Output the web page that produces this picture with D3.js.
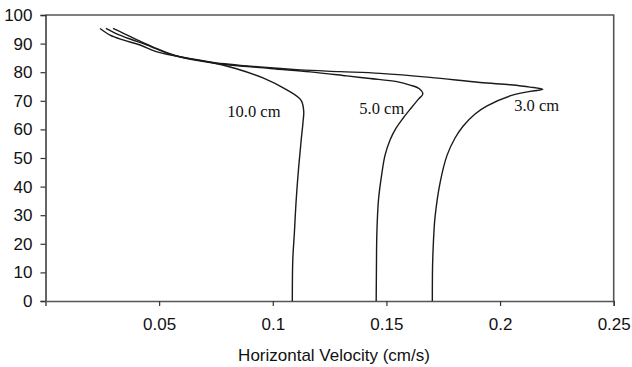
<!DOCTYPE html>
<html>
<head>
<meta charset="utf-8">
<script src="https://cdn.jsdelivr.net/npm/d3@7"></script>
<style>
  html, body { margin: 0; padding: 0; background: #fff; }
  svg { display: block; }
</style>
</head>
<body>
<svg id="chart" width="632" height="367"></svg>
<script>
// Velocity profiles: [horizontal velocity (cm/s), height] from bed to surface
const profile10cm = [
  [0.1086, 0], [0.1088, 14.3], [0.1095, 23.8], [0.1103, 35.3], [0.1114, 46.9],
  [0.1125, 56.3], [0.1133, 62.5], [0.1136, 66.5], [0.1124, 70.2], [0.1062, 73.8],
  [0.0957, 78.0], [0.0840, 81.2], [0.0737, 83.3], [0.0592, 85.4], [0.0491, 87.1],
  [0.0416, 89.5], [0.0341, 91.3], [0.0284, 93.0], [0.0240, 95.3]
];
const profile5cm = [
  [0.1455, 0], [0.1456, 10.8], [0.1458, 23.8], [0.1465, 35.3], [0.1479, 44.1],
  [0.1494, 51.0], [0.1516, 56.3], [0.1543, 60.5], [0.1574, 64.0], [0.1609, 67.5],
  [0.1640, 70.5], [0.1660, 72.4], [0.1645, 74.2], [0.1604, 75.5], [0.1546, 76.7],
  [0.1428, 77.8], [0.1326, 78.7], [0.1164, 80.1], [0.0988, 81.3], [0.0737, 83.2],
  [0.0560, 86.0], [0.0447, 89.5], [0.0372, 91.6], [0.0306, 93.7], [0.0266, 95.3]
];
const profile3cm = [
  [0.1702, 0], [0.1703, 12.0], [0.1707, 21.0], [0.1714, 29.4], [0.1736, 41.3],
  [0.1767, 51.0], [0.1802, 57.0], [0.1838, 61.2], [0.1890, 65.4], [0.1943, 68.2],
  [0.2044, 71.7], [0.2132, 73.3], [0.2188, 74.0], [0.2132, 74.8], [0.2045, 75.6],
  [0.1912, 76.4], [0.1692, 78.2], [0.1472, 79.6], [0.1296, 80.2], [0.1120, 80.8],
  [0.0944, 81.8], [0.0737, 83.4], [0.0580, 85.6], [0.0473, 88.8], [0.0403, 91.3],
  [0.0341, 93.7], [0.0297, 95.3]
];

const seriesNames = ["10.0 cm", "5.0 cm", "3.0 cm"];
const seriesData = [profile10cm, profile5cm, profile3cm];
// label anchor points [velocity, height] (text start, baseline) for each curve
const labelAnchors = [[0.0800, 64.2], [0.1381, 65.4], [0.2062, 66.3]];

const xTicks = [0.05, 0.1, 0.15, 0.2, 0.25];
const yTicks = [0, 10, 20, 30, 40, 50, 60, 70, 80, 90, 100];
const xTitle = "Horizontal Velocity (cm/s)";

const svg = d3.select("#chart");
const x = d3.scaleLinear().domain([0, 0.25]).range([45.5, 613.7]);
const y = d3.scaleLinear().domain([0, 100]).range([301, 15]);

const axisColor = "#333";
const sans = "'Liberation Sans', Arial, sans-serif";
const serif = "'Liberation Serif', 'Times New Roman', serif";

// plot frame: top and right edges
svg.append("path")
  .attr("d", `M${x(0)},${y(100)}H${x(0.25)}V${y(0)}`)
  .attr("fill", "none").attr("stroke", "#555").attr("stroke-width", 1.6);

// y axis
const gy = svg.append("g")
  .attr("transform", `translate(${x(0)},0)`)
  .call(d3.axisLeft(y).tickValues(yTicks).tickSize(5).tickPadding(8).tickFormat(d3.format("d")));
gy.select(".domain").attr("stroke", axisColor).attr("stroke-width", 1.5);
gy.selectAll(".tick line").attr("stroke", axisColor).attr("stroke-width", 1.2);
gy.selectAll(".tick text").attr("font-family", sans).attr("font-size", 17).attr("fill", "#111");

// x axis
const gx = svg.append("g")
  .attr("transform", `translate(0,${y(0)})`)
  .call(d3.axisBottom(x).tickValues(xTicks).tickSize(5).tickPadding(12).tickFormat(d3.format("~g")));
gx.select(".domain").attr("stroke", "#555").attr("stroke-width", 1.6);
gx.selectAll(".tick line").attr("stroke", axisColor).attr("stroke-width", 1.2);
gx.selectAll(".tick text").attr("font-family", sans).attr("font-size", 17).attr("fill", "#111");

svg.append("text")
  .attr("x", 334)
  .attr("y", 361)
  .attr("text-anchor", "middle")
  .attr("font-family", sans).attr("font-size", 17).attr("fill", "#111")
  .text(xTitle);

// velocity profile curves
const line = d3.line()
  .x(d => x(d[0]))
  .y(d => y(d[1]))
  .curve(d3.curveCatmullRom.alpha(0.5));

svg.append("g").selectAll("path")
  .data(seriesData)
  .join("path")
  .attr("d", line)
  .attr("fill", "none")
  .attr("stroke", "#1a1a1a")
  .attr("stroke-width", 1.4)
  .attr("stroke-linejoin", "round");

// curve labels
svg.append("g").selectAll("text")
  .data(seriesNames)
  .join("text")
  .attr("x", (d, i) => x(labelAnchors[i][0]))
  .attr("y", (d, i) => y(labelAnchors[i][1]))
  .attr("font-family", serif).attr("font-size", 16.5).attr("fill", "#111")
  .text(d => d);
</script>
</body>
</html>
